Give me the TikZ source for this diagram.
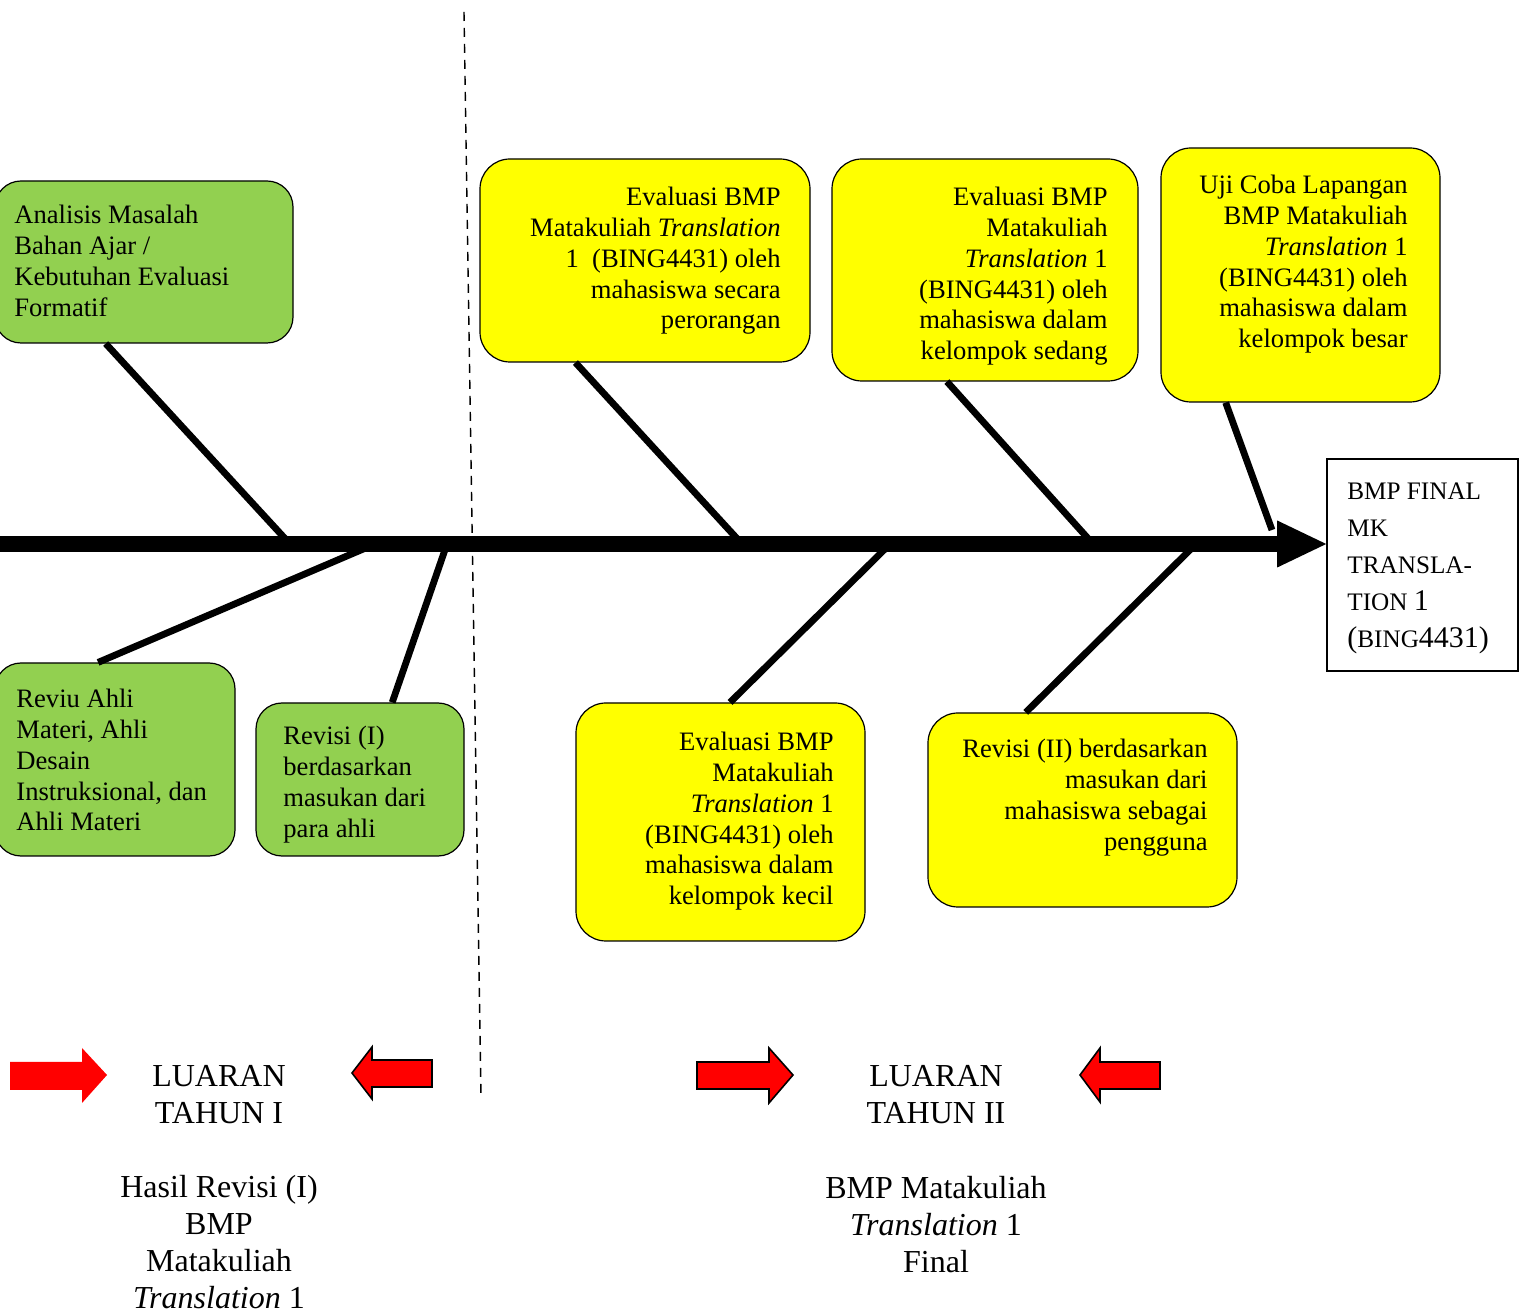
\documentclass[tikz,border=0pt]{standalone}
\usepackage{fontspec}
\setmainfont{Liberation Serif}
\usetikzlibrary{arrows.meta,calc}
\definecolor{bgreen}{HTML}{92D050}
\definecolor{byellow}{HTML}{FFFF00}
\definecolor{bred}{HTML}{FF0000}
\newcommand\boxfont{\fontsize{13.3}{15.35}\selectfont}
\newcommand\bigfont{\fontsize{16}{18.5}\selectfont}
\newcommand\finfont{\fontsize{12.6}{18.5}\selectfont}
\newcommand\TabL[1]{\begin{tabular}[t]{@{}l@{}}#1\end{tabular}}
\newcommand\TabR[1]{\begin{tabular}[t]{@{}r@{}}#1\end{tabular}}
\newcommand\TabC[1]{\begin{tabular}[t]{@{}c@{}}#1\end{tabular}}
\newcommand\Dg[1]{{\fontsize{15}{18.5}\selectfont #1}}
\begin{document}
\begin{tikzpicture}[x=0.5pt,y=-0.5pt,
  gbox/.style={draw=black,line width=0.6pt,fill=bgreen,rounded corners=13pt,inner sep=0},
  ybox/.style={draw=black,line width=0.6pt,fill=byellow,rounded corners=15pt,inner sep=0},
  finbox/.style={draw=black,line width=0.8pt,fill=white,inner sep=0},
  txt/.style={inner sep=0,font=\boxfont},
  big/.style={inner sep=0,font=\bigfont},
  bone/.style={line width=3.4pt},
  spine/.style={line width=8pt,-{Triangle[length=24.5pt,width=23.5pt,line width=0pt]}},
  dashline/.style={line width=0.7pt,dash pattern=on 4.5pt off 3.5pt},
  redarrow/.style={fill=bred},
  redarrowo/.style={fill=bred,draw=black,line width=0.8pt,line join=miter}]
\useasboundingbox (0,0) rectangle (1528,1315);

% dashed separator
\coordinate (d1) at (464,12);
\coordinate (d2) at (481,1097);
\draw[dashline] (d1) -- (d2);

% boxes
\node[gbox,minimum width=149pt,minimum height=81pt] (b1) at (144,262) {};
\node[gbox,minimum width=120pt,minimum height=96.5pt] (b2) at (115,759.5) {};
\node[gbox,minimum width=104pt,minimum height=76.5pt] (b3) at (360,779.5) {};
\node[ybox,minimum width=165pt,minimum height=101.5pt] (b4) at (645,260.5) {};
\node[ybox,minimum width=153pt,minimum height=111pt] (b5) at (985,270) {};
\node[ybox,minimum width=139.5pt,minimum height=127pt] (b6) at (1300.5,275) {};
\node[ybox,minimum width=144.5pt,minimum height=119pt] (b7) at (720.5,822) {};
\node[ybox,minimum width=154.5pt,minimum height=97pt] (b8) at (1082.5,810) {};
\node[finbox,minimum width=95.5pt,minimum height=106pt] (b9) at (1422.5,565) {};

% box texts
\node[txt,anchor=base west] (t1) at (14,224) {\TabL{Analisis Masalah\\Bahan Ajar /\\Kebutuhan Evaluasi\\Formatif}};
\node[txt,anchor=base west] (t2) at (16,708) {\TabL{Reviu Ahli\\Materi, Ahli\\Desain\\Instruksional, dan\\Ahli Materi}};
\node[txt,anchor=base west] (t3) at (283,745) {\TabL{Revisi (I)\\berdasarkan\\masukan dari\\para ahli}};
\node[txt,anchor=base east] (t4) at (781,206) {\TabR{Evaluasi BMP\\Matakuliah \textit{Translation}\\1~ (BING4431) oleh\\mahasiswa secara\\perorangan}};
\node[txt,anchor=base east] (t5) at (1108,206) {\TabR{Evaluasi BMP\\Matakuliah\\\textit{Translation} 1\\(BING4431) oleh\\mahasiswa dalam\\kelompok sedang}};
\node[txt,anchor=base east] (t6) at (1408,194) {\TabR{Uji Coba Lapangan\\BMP Matakuliah\\\textit{Translation} 1\\(BING4431) oleh\\mahasiswa dalam\\kelompok besar}};
\node[txt,anchor=base east] (t7) at (834,751) {\TabR{Evaluasi BMP\\Matakuliah\\\textit{Translation} 1\\(BING4431) oleh\\mahasiswa dalam\\kelompok kecil}};
\node[txt,anchor=base east] (t8) at (1208,758) {\TabR{Revisi (II) berdasarkan\\masukan dari\\mahasiswa sebagai\\pengguna}};
\node[inner sep=0,font=\finfont,anchor=base west] (t9) at (1347,500) {\TabL{BMP FINAL\\MK\\TRANSLA-\\TION \Dg{1}\\\Dg{(}BING\Dg{4431)}}};

% junctions on the spine
\coordinate (sp0) at (0,544);
\coordinate (j1) at (290,544);
\coordinate (j2) at (375,544);
\coordinate (j3) at (447,544);
\coordinate (j4) at (742,544);
\coordinate (j5) at (1093,544);
\coordinate (j6) at (1272,530);
\coordinate (j7) at (890,544);
\coordinate (j8) at (1196,544);

% bones
\draw[bone] ($(b1.south west)!0.372!(b1.south east)$) -- (j1);
\draw[bone] ($(b2.north west)!0.43!(b2.north east)$) -- (j2);
\draw[bone] ($(b3.north west)!0.654!(b3.north east)$) -- (j3);
\draw[bone] ($(b4.south west)!0.29!(b4.south east)$) -- (j4);
\draw[bone] ($(b5.south west)!0.376!(b5.south east)$) -- (j5);
\draw[bone] ($(b6.south west)!0.233!(b6.south east)$) -- (j6);
\draw[bone] ($(b7.north west)!0.533!(b7.north east)$) -- (j7);
\draw[bone] ($(b8.north west)!0.317!(b8.north east)$) -- (j8);

% spine
\draw[spine] (sp0) -- (sp0 -| b9.west);

% red block arrows
\fill[redarrow] (10,1062) -- (82,1062) -- (82,1048) -- (107,1075) -- (82,1103) -- (82,1090) -- (10,1090) -- cycle;
\filldraw[redarrowo] (432,1060) -- (372,1060) -- (372,1047) -- (352,1073) -- (372,1099) -- (372,1087) -- (432,1087) -- cycle;
\filldraw[redarrowo] (697,1062) -- (769,1062) -- (769,1048) -- (793,1075) -- (769,1103) -- (769,1089) -- (697,1089) -- cycle;
\filldraw[redarrowo] (1160,1062) -- (1100,1062) -- (1100,1048) -- (1080,1075) -- (1100,1102) -- (1100,1089) -- (1160,1089) -- cycle;

% outputs
\node[big,anchor=base] (l1) at (219,1087) {\TabC{LUARAN\\TAHUN I}};
\node[big,anchor=base] (h1) at (219,1197) {\TabC{Hasil Revisi (I)\\BMP\\Matakuliah\\\textit{Translation} 1}};
\node[big,anchor=base] (l2) at (936,1087) {\TabC{LUARAN\\TAHUN II}};
\node[big,anchor=base] (h2) at (936,1198) {\TabC{BMP Matakuliah\\\textit{Translation} 1\\Final}};
\end{tikzpicture}
\end{document}
